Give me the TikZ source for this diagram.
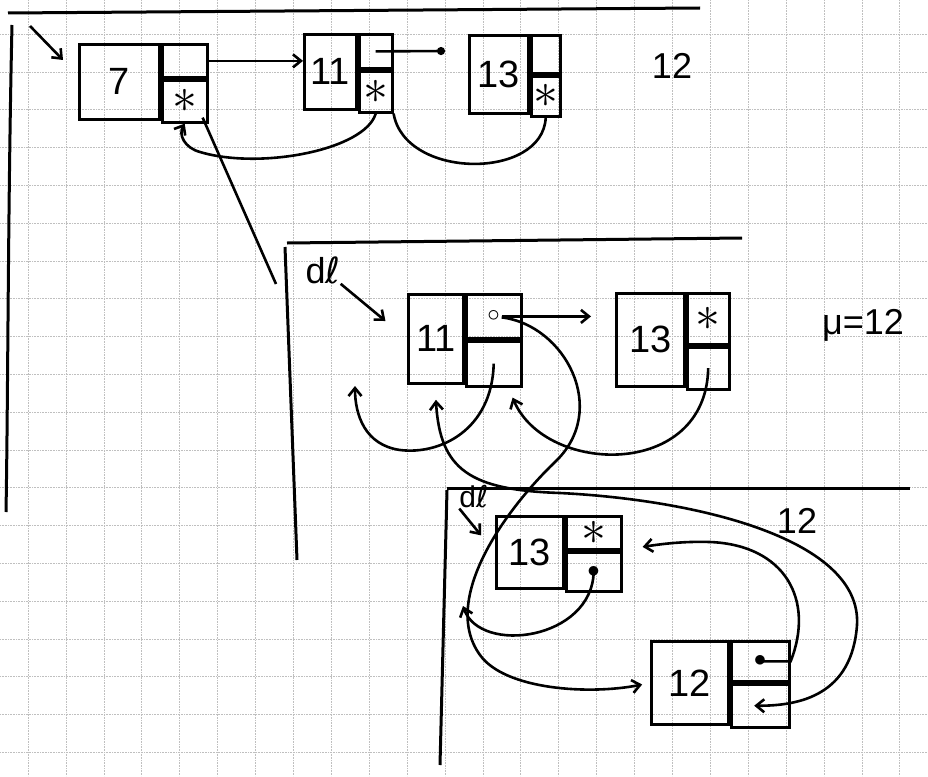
\documentclass[tikz,border=0pt]{standalone}
\usepackage{fontspec}
\setmainfont{Liberation Sans}
\newfontfamily\symfont{DejaVu Sans}
\usetikzlibrary{positioning,arrows.meta}
\newcommand{\ptrstar}{\scalebox{2}{$\ast$}}
\tikzstyle{valnode} = [
    rectangle,                 % Shape
    draw=black,                % Border color
    line width=2.8pt,          % Pen stroke
    inner sep=0pt,
    anchor=north west,         % Placed by top left corner
    text centered,             % Centered text
    font=\fontsize{38}{40}\selectfont
]
\tikzstyle{ptrnode} = [rectangle, draw=black, line width=2.8pt, inner sep=0pt, font=\Huge]
\tikzstyle{arrow} = [line width=2.6pt, ->, >={Straight Barb[length=8pt,width=13pt]}]
\tikzstyle{link} = [line width=2.6pt]
\tikzstyle{rule} = [line width=3pt]
\tikzstyle{grid} = [gray!50, densely dotted, line width=0.6pt]
\tikzstyle{hand} = [inner sep=0pt, font=\fontsize{36}{40}\selectfont]
\begin{document}
\begin{tikzpicture}[x=1pt, y=-1pt]
		\useasboundingbox (0,0) rectangle (928,776);

		% Squared paper
		\foreach \i in {0,...,23} \draw[grid] ({28+37.9*\i},0) -- ({28+37.9*\i},776);
		\foreach \j in {0,...,19} \draw[grid] (0,{34+37.8*\j}) -- (928,{34+37.8*\j});

		% Panel rules
		\draw[rule] (8,13) -- (700,8);
		\draw[rule] (12,25) .. controls (8,200) and (8,400) .. (6,512);
		\draw[rule] (287,243) -- (742,238);
		\draw[rule] (285,247) -- (297,560);
		\draw[rule] (447,488) -- (910,488);
		\draw[rule] (447,490) -- (440,765);

		% First list
		\node[valnode, minimum width=80pt, minimum height=75pt] (b7v) at (78,43) {7};
		\node[ptrnode, minimum width=45pt, minimum height=33pt, anchor=north west] (b7n) at (b7v.north east) {};
		\node[ptrnode, minimum width=45pt, minimum height=42pt, below=0pt of b7n] (b7p) {\ptrstar};

		\node[valnode, minimum width=52pt, minimum height=75pt] (b11av) at (303,33) {11};
		\node[ptrnode, minimum width=33pt, minimum height=34pt, anchor=north west] (b11an) at (b11av.north east) {};
		\node[ptrnode, minimum width=33pt, minimum height=41pt, below=0pt of b11an] (b11ap) {\ptrstar};

		\node[valnode, minimum width=59pt, minimum height=78pt] (b13av) at (468,34) {13};
		\node[ptrnode, minimum width=29pt, minimum height=38pt, anchor=north west] (b13an) at (b13av.north east) {};
		\node[ptrnode, minimum width=29pt, minimum height=40pt, below=0pt of b13an] (b13ap) {\ptrstar};

		\node[hand] (n12a) at (672,66) {12};

		% Second list
		\node[valnode, minimum width=55pt, minimum height=89pt] (b11bv) at (407,293) {11};
		\node[ptrnode, minimum width=55pt, minimum height=44pt, anchor=north west] (b11bn) at (b11bv.north east) {$\circ$};
		\node[ptrnode, minimum width=55pt, minimum height=45pt, below=0pt of b11bn] (b11bp) {};

		\node[valnode, minimum width=68pt, minimum height=93pt] (b13bv) at (615,292) {13};
		\node[ptrnode, minimum width=42pt, minimum height=51pt, anchor=north west] (b13bn) at (b13bv.north east) {\ptrstar};
		\node[ptrnode, minimum width=42pt, minimum height=42pt, below=0pt of b13bn] (b13bp) {};

		\node[hand] (dl2) at (323,270) {d{\symfont ℓ}};
		\node[hand] (mu) at (863,325) {μ=12};

		% Third list
		\node[valnode, minimum width=67pt, minimum height=72pt] (b13cv) at (495,515) {13};
		\node[ptrnode, minimum width=55pt, minimum height=33pt, anchor=north west] (b13cn) at (b13cv.north east) {\ptrstar};
		\node[ptrnode, minimum width=55pt, minimum height=39pt, below=0pt of b13cn] (b13cp) {$\bullet$};

		\node[valnode, minimum width=77pt, minimum height=83pt] (b12cv) at (650,640) {12};
		\node[ptrnode, minimum width=58pt, minimum height=40pt, anchor=north west] (b12cn) at (b12cv.north east) {$\bullet$};
		\node[ptrnode, minimum width=58pt, minimum height=43pt, below=0pt of b12cn] (b12cp) {};

		\node[hand, font=\fontsize{30}{32}\selectfont] (dl3) at (474,497) {d{\symfont ℓ}};
		\node[hand] (n12c) at (797,521) {12};

		% Free ends
		\coordinate (in7) at (30,26);
		\coordinate (in7tip) at (63,60);
		\coordinate (d11) at (445,51);
		\coordinate (e7) at (276,284);
		\coordinate (nil11) at (355,386);
		\coordinate (nil13) at (463,606);

		% Arrows, first list
		\draw[arrow] (in7) -- (in7tip);
		\draw[arrow] (b7n.east) -- (b7n.east -| b11av.west);
		\draw[link, -{Circle[length=8pt]}] (b11an.center) -- (d11);
		\draw[arrow] (b11ap.south) .. controls (365,150) and (260,170) .. (200,152) .. controls (185,148) and (178,135) .. (b7p.south);
		\draw[link] (b13ap.south) .. controls (543,180) and (405,180) .. (b11ap.south east);
		\draw[link] ([xshift=-6pt,yshift=6pt]b7p.south east) -- (e7);

		% Arrows, second list
		\draw[arrow] (dl2.south east) -- (b11bv.west) [shorten >=28pt];
		\draw[arrow, shorten <=8pt, shorten >=24pt] (b11bn.center) -- (b11bn.center -| b13bv.west);
		\draw[arrow] (b11bp.center) .. controls (492,430) and (440,455) .. (400,450) .. controls (365,445) and (355,415) .. (nil11);
		\draw[arrow] (b13bp.center) .. controls (706,480) and (545,475) .. ([xshift=-10pt,yshift=-10pt]b11bp.south east);
		\draw[arrow, shorten <=8pt, shorten >=8pt] (b11bn.center) .. controls (565,325) and (610,410) .. (555,462) .. controls (505,510) and (440,600) .. (480,655) .. controls (505,690) and (590,695) .. (b12cv.west);
		\draw[arrow, <->] ([yshift=-15pt]b11bv.south) .. controls (440,470) and (470,490) .. (560,493) .. controls (700,500) and (862,540) .. (857,625) .. controls (852,695) and (800,706) .. ([xshift=-6pt]b12cp.center);

		% Arrows, third list
		\draw[arrow] (dl3.south west) -- (b13cv.west) [shorten >=22pt];
		\draw[arrow] (b12cn.center) -- (b12cn.east) .. controls (815,600) and (785,545) .. (710,542) .. controls (680,541) and (655,545) .. ([xshift=20pt,yshift=-14pt]b13cn.east);
		\draw[arrow] (b13cp.center) .. controls (592,640) and (480,655) .. (nil13);
	\end{tikzpicture}
\end{document}
